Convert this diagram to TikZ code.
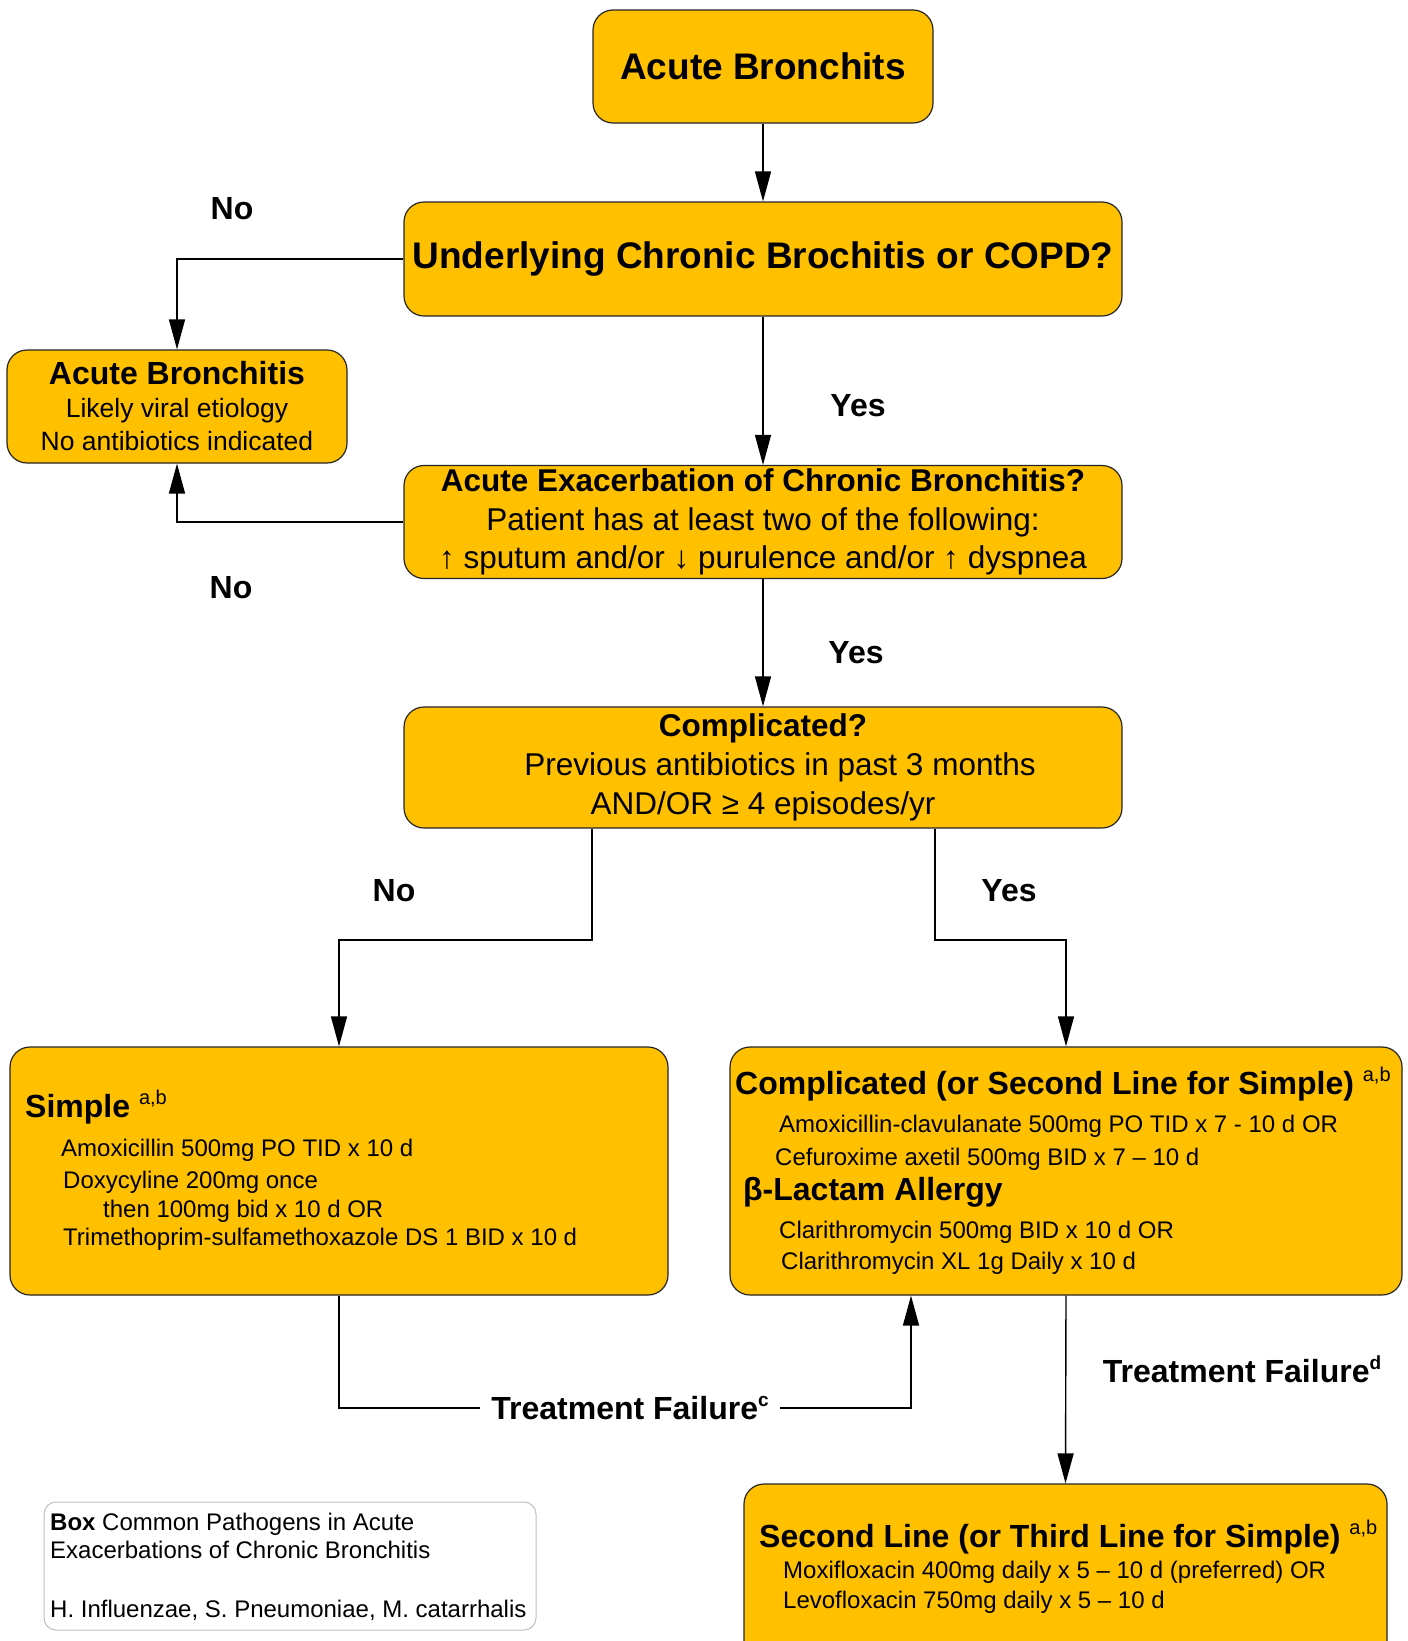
\documentclass[tikz,border=0pt]{standalone}
\usepackage{fontspec}
\setmainfont{Liberation Sans}
\usetikzlibrary{arrows.meta}
\definecolor{gold}{HTML}{FFC000}
\newcommand{\fs}[1]{\fontsize{#1}{#1}\selectfont}
\newcommand{\mysup}[1]{\raisebox{13pt}{\fontsize{20}{20}\selectfont\mdseries #1}}
\newcommand{\tfsup}[1]{\raisebox{13pt}{\fontsize{19}{19}\selectfont\bfseries #1}}
\begin{document}
\begin{tikzpicture}[x=1pt,y=-1pt,
  box/.style={draw=black!85, line width=1.2pt, fill=gold, rounded corners=20pt, inner sep=0pt},
  arr/.style={line width=1.4pt, -{Triangle[length=30pt,width=16pt]}},
  ln/.style={line width=1.4pt},
  lbl/.style={font={\fs{32}\bfseries}, inner sep=0pt},
  hd/.style={font={\fs{32}\bfseries}, anchor=base west, inner sep=0pt},
  body/.style={font={\fs{24}}, anchor=base west, inner sep=0pt},
  note/.style={font={\fs{24}}, anchor=base west, inner sep=0pt}]
\useasboundingbox (0,0) rectangle (1408,1641);
\fill[white] (0,0) rectangle (1408,1641);
\clip (0,0) rectangle (1408,1641);

% boxes
\node[box, minimum width=340pt, minimum height=113pt, font={\fs{37}\bfseries}] (top) at (763,66.5) {Acute Bronchits};
\node[box, minimum width=718pt, minimum height=114pt, font={\fs{37}\bfseries}] (q1) at (763,259) {\raisebox{-3pt}{Underlying Chronic Brochitis or COPD?}};
\node[box, minimum width=340pt, minimum height=113pt, align=center, font={\fontsize{26.5}{33}\selectfont}] (ab) at (177,406.5)
  {{\fontsize{32}{33}\selectfont\bfseries Acute Bronchitis}\\Likely viral etiology\\No antibiotics indicated};
\node[box, minimum width=718pt, minimum height=113pt, align=center, font={\fontsize{31.5}{38.5}\selectfont}] (aecb) at (763,522)
  {{\bfseries Acute Exacerbation of Chronic Bronchitis?}\\Patient has at least two of the following:\\↑ sputum and/or ↓ purulence and/or ↑ dyspnea};
\node[box, minimum width=718pt, minimum height=121pt, align=center, font={\fontsize{31.5}{39}\selectfont}] (cq) at (763,767.5)
  {{\bfseries Complicated?}\\\hspace*{34pt}Previous antibiotics in past 3 months\\AND/OR ≥ 4 episodes/yr};
\node[box, minimum width=658pt, minimum height=248pt] (simple) at (339,1171) {};
\node[box, minimum width=672pt, minimum height=248pt] (comp) at (1066,1171) {};
\node[box, minimum width=643pt, minimum height=236pt] (second) at (1065.5,1602) {};
\node[draw=black!25, line width=1pt, rounded corners=12pt, fill=white, minimum width=492pt, minimum height=128pt, inner sep=0pt] (path) at (290,1566) {};

% simple text
\node[hd] (s0) at (25,1117) {Simple \mysup{a,b}};
\node[body] (s1) at (61,1156) {Amoxicillin 500mg PO TID x 10 d};
\node[body] (s2) at (63,1188) {Doxycyline 200mg once};
\node[body] (s3) at (103,1217) {then 100mg bid x 10 d OR};
\node[body] (s4) at (63,1245) {Trimethoprim-sulfamethoxazole DS 1 BID x 10 d};

% complicated text
\node[hd] (c0) at (735,1094) {Complicated (or Second Line for Simple) \mysup{a,b}};
\node[body] (c1) at (779,1132) {Amoxicillin-clavulanate 500mg PO TID x 7 - 10 d OR};
\node[body] (c2) at (775,1165) {Cefuroxime axetil 500mg BID x 7 – 10 d};
\node[hd] (c3) at (743,1200) {β-Lactam Allergy};
\node[body] (c4) at (779,1238) {Clarithromycin 500mg BID x 10 d OR};
\node[body] (c5) at (781,1269) {Clarithromycin XL 1g Daily x 10 d};

% second line text
\node[hd] (t0) at (759,1547) {Second Line (or Third Line for Simple) \mysup{a,b}};
\node[body] (t1) at (783,1578) {Moxifloxacin 400mg daily x 5 – 10 d (preferred) OR};
\node[body] (t2) at (783,1608) {Levofloxacin 750mg daily x 5 – 10 d};

% pathogen box text
\node[note] (p1) at (50,1530) {\textbf{Box} Common Pathogens in Acute};
\node[note] (p2) at (50,1558) {Exacerbations of Chronic Bronchitis};
\node[note] (p3) at (50,1617) {H. Influenzae, S. Pneumoniae, M. catarrhalis};

% labels
\node[lbl] (no1) at (232,209) {No};
\node[lbl] (yes1) at (858,406) {Yes};
\node[lbl] (no2) at (231,588) {No};
\node[lbl] (yes2) at (856,653) {Yes};
\node[lbl] (no3) at (394,891) {No};
\node[lbl] (yes3) at (1009,891) {Yes};
\node[lbl, inner xsep=11pt] (tfc) at (630,1408) {Treatment Failure\tfsup{c}};
\node[lbl] (tfd) at (1242,1369) {Treatment Failure\tfsup{d}};

% connectors
\coordinate (nx) at (592,940);
\coordinate (yx) at (935,940);
\coordinate (tfx) at (911,1408);
\draw[arr] (top.south) -- (q1.north);
\draw[arr] (q1.west) -| (ab.north);
\draw[arr] (q1.south) -- (aecb.north);
\draw[arr] (aecb.west) -| (ab.south);
\draw[arr] (aecb.south) -- (cq.north);
\draw[arr] (cq.south -| nx) -- (nx) -| (simple.north);
\draw[arr] (cq.south -| yx) -- (yx) -| (comp.north);
\draw[ln] (simple.south) |- (tfc.west);
\draw[arr] (tfc.east) -- (tfx) -- (comp.south -| tfx);
\draw[arr] (comp.south) -- (second.north);
\end{tikzpicture}
\end{document}
